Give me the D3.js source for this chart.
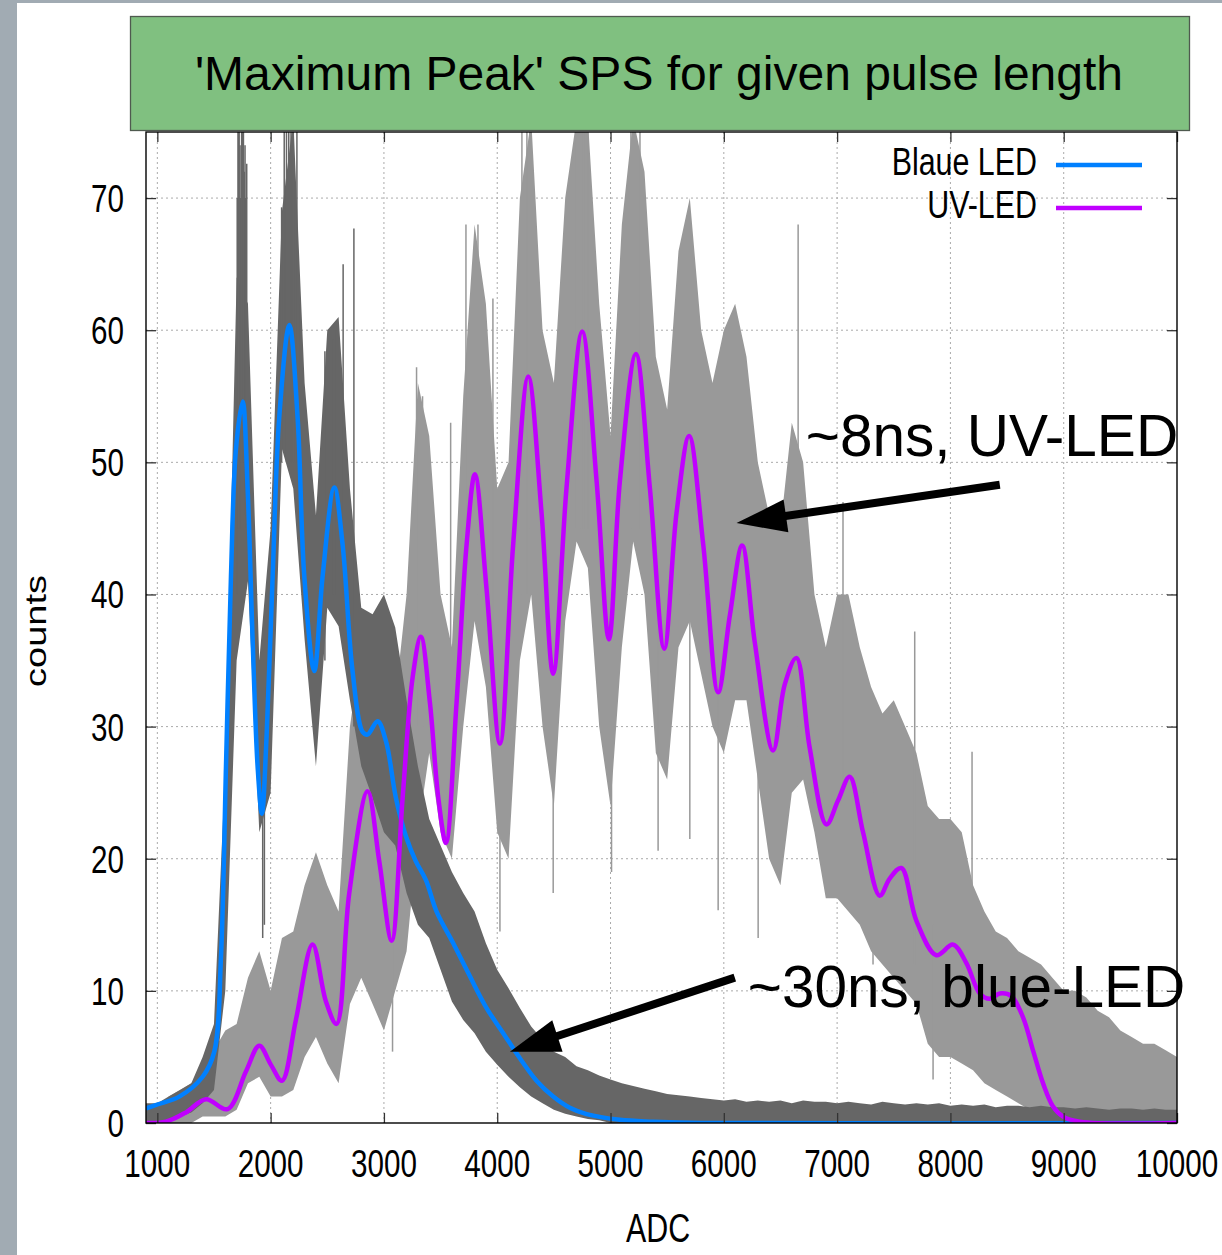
<!DOCTYPE html>
<html lang="en">
<head>
<meta charset="UTF-8">
<title>'Maximum Peak' SPS for given pulse length</title>
<script src="https://cdn.jsdelivr.net/npm/d3@7"></script>
<style>
  body { margin: 0; background: #fff; }
  text { font-family: "Liberation Sans", Arial, sans-serif; }
</style>
</head>
<body>
<script>
// histogram bins (ADC), one every 100
const adcBins = [
  900, 1000, 1100, 1200, 1300, 1400, 1500, 1600, 1700, 1800,
  1900, 2000, 2100, 2200, 2300, 2400, 2500, 2600, 2700, 2800,
  2900, 3000, 3100, 3200, 3300, 3400, 3500, 3600, 3700, 3800,
  3900, 4000, 4100, 4200, 4300, 4400, 4500, 4600, 4700, 4800,
  4900, 5000, 5100, 5200, 5300, 5400, 5500, 5600, 5700, 5800,
  5900, 6000, 6100, 6200, 6300, 6400, 6500, 6600, 6700, 6800,
  6900, 7000, 7100, 7200, 7300, 7400, 7500, 7600, 7700, 7800,
  7900, 8000, 8100, 8200, 8300, 8400, 8500, 8600, 8700, 8800,
  8900, 9000, 9100, 9200, 9300, 9400, 9500, 9600, 9700, 9800,
  9900, 10000
];

// blue LED raw histogram: upper / lower edge of the noise band
const blueHistHi = [
  1.5, 1.5, 2, 2.5, 3, 5, 7.5, 27, 64, 62,
  35, 45, 69, 76, 56, 46, 60, 61, 48, 39,
  38.5, 40, 37.5, 32, 27, 23, 21, 19, 17.4, 16,
  13.6, 11.6, 10.2, 8.7, 7.3, 6.3, 5.4, 5, 4.3, 4,
  3.6, 3.3, 3, 2.8, 2.6, 2.4, 2.2, 2.1, 2, 1.9,
  1.8, 1.7, 1.8, 1.6, 1.7, 1.6, 1.7, 1.5, 1.7, 1.6,
  1.6, 1.5, 1.6, 1.5, 1.4, 1.6, 1.5, 1.4, 1.5, 1.4,
  1.5, 1.3, 1.4, 1.3, 1.4, 1.2, 1.3, 1.3, 1.2, 1.3,
  1.2, 1.2, 1.1, 1.2, 1.1, 1.0, 1.1, 1.1, 1.0, 1.1,
  1.0, 1.0
];
const blueHistLo = [
  0, 0, 0.3, 0.5, 0.8, 1.5, 2.5, 10, 35, 41,
  22, 25, 51, 48, 36.6, 27, 39, 37.6, 32, 27,
  24.6, 22, 21, 17.4, 15, 14, 11.6, 9.2, 7.8, 6.8,
  5.4, 4.4, 3.5, 2.7, 2, 1.5, 1, 0.7, 0.5, 0.3,
  0.2, 0, 0, 0, 0, 0, 0, 0, 0, 0,
  0, 0, 0, 0, 0, 0, 0, 0, 0, 0,
  0, 0, 0, 0, 0, 0, 0, 0, 0, 0,
  0, 0, 0, 0, 0, 0, 0, 0, 0, 0,
  0, 0, 0, 0, 0, 0, 0, 0, 0, 0,
  0, 0
];

// UV LED raw histogram
const uvHistHi = [
  0.8, 1, 2, 2.5, 3, 4, 5.5, 7, 7.5, 11,
  13, 10, 14, 14.5, 18, 20.5, 18, 16, 30, 36,
  33, 26, 32, 40, 56, 52, 40, 36, 55, 68,
  62, 48, 50, 70, 76, 60, 56, 70, 76, 76,
  62, 52, 68, 76, 72, 58, 54, 66, 70, 60,
  56, 60, 62, 58, 50, 46, 45, 53, 50, 40,
  36, 40, 40, 36, 33, 31, 32, 30, 28, 24,
  23, 23, 22, 18, 16, 14.5, 14, 13, 12.5, 12,
  11, 10, 10, 9.5, 8.5, 8, 7, 6.5, 6, 6,
  5.5, 5
];
const uvHistLo = [
  0, 0, 0, 0, 0, 0.5, 0.5, 0.5, 1, 3,
  3.5, 2, 2, 2.5, 5, 6.5, 4.5, 3, 9, 11,
  9, 7, 10, 13, 22, 28, 22, 20, 30, 38,
  33, 22, 20, 35, 40, 30, 24, 38, 44, 42,
  30, 24, 36, 44, 40, 28, 26, 36, 38, 34,
  30, 28, 32, 32, 26, 20, 18, 25, 26, 22,
  17, 17, 16, 15, 13, 12, 11, 10, 9, 6,
  5, 5, 4.5, 4, 3, 2.5, 2, 1.5, 1, 0.8,
  0.6, 0.5, 0.5, 0.5, 0.5, 0.5, 0.5, 0.5, 0.5, 0.5,
  0.5, 0.5
];

// single tall / deep bins sticking out of the bands: [adc, from, to]
const blueSpikes = [
  [1705, 40, 70], [1712, 40, 76], [1718, 45, 76], [1722, 45, 76], [1730, 48, 74],
  [1736, 50, 70], [1744, 45, 76], [1752, 50, 76], [1760, 50, 76], [1768, 50, 72],
  [1774, 48, 74], [1780, 46, 70], [1789, 45, 72.6], [1930, 14, 30], [1945, 15, 33],
  [2097, 50, 69.3], [2120, 55, 76], [2140, 50, 76], [2160, 55, 76], [2180, 50, 76],
  [2200, 50, 76], [2232, 50, 76], [2259, 45, 62], [2479, 35, 58.4], [2550, 40, 59.3],
  [2582, 40, 60], [2640, 40, 65], [2735, 30, 67.7]
];
const uvSpikes = [
  [3076, 5.4, 15], [3288, 30, 57.2], [3341, 30, 55], [3589, 25, 53], [3724, 35, 68],
  [3830, 40, 68], [3962, 30, 62.4], [4024, 14.5, 30], [4218, 40, 76], [4262, 40, 76],
  [4290, 45, 76], [4494, 17.4, 40], [4700, 45, 76], [4730, 45, 76], [4760, 45, 76],
  [4800, 45, 76], [5009, 19, 40], [5180, 45, 76], [5210, 45, 76], [5260, 45, 76],
  [5420, 20.6, 40], [5700, 21.5, 40], [5950, 16.1, 35], [6303, 14, 35], [6656, 30, 68],
  [7052, 25, 47], [7317, 12, 25], [7685, 12, 37.2], [7847, 3.3, 15], [8191, 6, 28.1]
];

// fitted curves
const blueFitAdc = [
  900, 1000, 1194, 1400, 1503, 1562, 1606, 1650, 1694, 1753,
  1797, 1841, 1885, 1923, 1965, 2018, 2076, 2165, 2238, 2297,
  2385, 2459, 2562, 2635, 2723, 2812, 2856, 2944, 3018, 3106,
  3194, 3282, 3370, 3465, 3612, 3759, 3906, 4053, 4200, 4347,
  4494, 4641, 4789, 5083, 5377, 5800, 10000
];
const blueFitCounts = [
  1.1, 1.4, 2.0, 3.5, 5.4, 12.6, 27, 41.4, 51, 54.6,
  48, 36.6, 27, 23.4, 29.4, 41.4, 53.4, 60.4, 53.4, 41.4,
  34.2, 41.4, 48.1, 43.8, 34.2, 29.6, 29.4, 30.4, 28.9, 24.6,
  21.7, 19.8, 18.4, 16, 13.6, 11.1, 8.7, 6.8, 4.9, 3.2,
  2.0, 1.15, 0.67, 0.24, 0.1, 0, 0
];
const uvFitAdc = [
  900, 1076, 1253, 1429, 1620, 1782, 1900, 2003, 2100, 2223,
  2370, 2488, 2582, 2694, 2856, 2959, 3068, 3165, 3253, 3326,
  3406, 3480, 3547, 3641, 3730, 3803, 3906, 4024, 4141, 4274,
  4391, 4494, 4612, 4750, 4877, 4986, 5083, 5224, 5347, 5474,
  5583, 5694, 5818, 5950, 6053, 6162, 6273, 6435, 6538, 6641,
  6758, 6906, 7008, 7111, 7229, 7376, 7464, 7567, 7700, 7876,
  8023, 8141, 8259, 8347, 8435, 8538, 8641, 8729, 8818, 8906,
  8994, 9141, 10000
];
const uvFitCounts = [
  0, 0.1, 0.8, 1.8, 1.05, 3.9, 5.85, 4.4, 3.2, 7.8,
  13.5, 9.2, 7.5, 17.4, 25.1, 19.8, 13.8, 24.6, 33.7, 36.8,
  31.8, 24.6, 21.2, 31.8, 43.8, 49.1, 40.4, 28.7, 43.8, 56.5,
  46.2, 34, 48.1, 59.9, 48.6, 36.6, 48.6, 58.2, 48.1, 35.9,
  46.2, 52, 43.8, 32.6, 38.4, 43.7, 36.4, 28.2, 33.2, 35.2,
  28.4, 22.6, 24.4, 26.2, 22.0, 17.2, 18.5, 19.3, 15.3, 12.7,
  13.5, 12.1, 9.8, 9.4, 9.8, 9.6, 8.0, 5.5, 3.0, 1.24,
  0.48, 0.1, 0
];

const xTicks = [1000, 2000, 3000, 4000, 5000, 6000, 7000, 8000, 9000, 10000];
const yTicks = [0, 10, 20, 30, 40, 50, 60, 70];
const legendNames = ['Blaue LED', 'UV-LED'];

const W = 1222, H = 1255;
const pL = 146, pR = 1177, pT = 132, pB = 1123;
const squeeze = 0.76;   // gnuplot export is squashed horizontally

const x = d3.scaleLinear().domain([900, 10000]).range([pL, pR]);
const y = d3.scaleLinear().domain([0, 75]).range([pB, pT]);

const svg = d3.select('body').append('svg')
    .attr('width', W)
    .attr('height', H);

// slide background
svg.append('rect').attr('width', W).attr('height', H).attr('fill', '#fff');
svg.append('rect').attr('width', 17).attr('height', H).attr('fill', '#a1abb3');
svg.append('rect').attr('width', W).attr('height', 3).attr('fill', '#a1abb3');

svg.append('clipPath').attr('id', 'plotClip')
    .append('rect')
    .attr('x', pL).attr('y', pT)
    .attr('width', pR - pL).attr('height', pB - pT);

// dotted grid
const grid = svg.append('g')
    .attr('stroke', '#aaa')
    .attr('stroke-width', 1)
    .attr('stroke-dasharray', '2,3');
grid.selectAll('.gx')
    .data(xTicks.filter(t => t < 10000))
    .enter().append('line')
    .attr('x1', d => x(d)).attr('x2', d => x(d))
    .attr('y1', pT).attr('y2', pB);
grid.selectAll('.gy')
    .data(yTicks.filter(t => t > 0))
    .enter().append('line')
    .attr('x1', pL).attr('x2', pR)
    .attr('y1', d => y(d)).attr('y2', d => y(d));

const plot = svg.append('g').attr('clip-path', 'url(#plotClip)');

function band(hi, lo, spikes, color) {
    const rows = adcBins.map((a, i) => ({adc: a, hi: hi[i], lo: lo[i]}));
    const area = d3.area()
        .x(d => x(d.adc))
        .y0(d => y(d.lo))
        .y1(d => y(d.hi));
    plot.append('path')
        .datum(rows)
        .attr('d', area)
        .attr('fill', color);
    plot.append('g').selectAll('line')
        .data(spikes)
        .enter().append('line')
        .attr('x1', d => x(d[0])).attr('x2', d => x(d[0]))
        .attr('y1', d => y(d[1])).attr('y2', d => y(d[2]))
        .attr('stroke', color)
        .attr('stroke-width', 1.5);
}
band(uvHistHi, uvHistLo, uvSpikes, '#999999');
band(blueHistHi, blueHistLo, blueSpikes, '#666666');

const fitLine = d3.line()
    .x(d => x(d[0]))
    .y(d => y(d[1]))
    .curve(d3.curveCatmullRom.alpha(0.5));

plot.append('path')
    .datum(blueFitAdc.map((a, i) => [a, blueFitCounts[i]]))
    .attr('d', fitLine)
    .attr('fill', 'none')
    .attr('stroke', '#0080ff')
    .attr('stroke-width', 4.5);
plot.append('path')
    .datum(uvFitAdc.map((a, i) => [a, uvFitCounts[i]]))
    .attr('d', fitLine)
    .attr('fill', 'none')
    .attr('stroke', '#c000ff')
    .attr('stroke-width', 4.5);

// ticks on all four sides, pointing inwards
const tickCol = '#333';
function ticks(axis, tx, ty) {
    const g = svg.append('g')
        .attr('transform', `translate(${tx},${ty})`)
        .call(axis);
    g.select('.domain').remove();
    g.selectAll('line').attr('stroke', tickCol).attr('stroke-width', 1.3);
}
ticks(d3.axisBottom(x).tickValues(xTicks).tickSize(-10).tickFormat(''), 0, pB);
ticks(d3.axisTop(x).tickValues(xTicks).tickSize(-10).tickFormat(''), 0, pT);
ticks(d3.axisLeft(y).tickValues(yTicks).tickSize(-10).tickFormat(''), pL, 0);
ticks(d3.axisRight(y).tickValues(yTicks).tickSize(-10).tickFormat(''), pR, 0);

svg.append('rect')
    .attr('x', pL).attr('y', pT)
    .attr('width', pR - pL).attr('height', pB - pT)
    .attr('fill', 'none')
    .attr('stroke', '#000')
    .attr('stroke-width', 1.4);

// tick labels
svg.append('g').selectAll('text')
    .data(yTicks)
    .enter().append('text')
    .attr('transform', d => `translate(124,${y(d) + 14}) scale(${squeeze},1)`)
    .attr('text-anchor', 'end')
    .attr('font-size', 39)
    .text(d => d);
svg.append('g').selectAll('text')
    .data(xTicks)
    .enter().append('text')
    .attr('transform', d => `translate(${x(d)},1177) scale(${squeeze},1)`)
    .attr('text-anchor', 'middle')
    .attr('font-size', 39)
    .text(d => d);

svg.append('text')
    .attr('transform', `translate(658,1242) scale(${squeeze},1)`)
    .attr('text-anchor', 'middle')
    .attr('font-size', 40)
    .text('ADC');
svg.append('text')
    .attr('transform', `translate(46,631) rotate(-90) scale(1,${squeeze})`)
    .attr('text-anchor', 'middle')
    .attr('font-size', 38)
    .text('counts');

// legend
const legendColors = ['#0080ff', '#c000ff'];
const lg = svg.append('g');
legendNames.forEach((name, i) => {
    const by = 175 + i * 43;
    lg.append('text')
        .attr('transform', `translate(1037,${by}) scale(0.8,1)`)
        .attr('text-anchor', 'end')
        .attr('font-size', 38)
        .text(name);
    lg.append('line')
        .attr('x1', 1056).attr('x2', 1142)
        .attr('y1', by - 10).attr('y2', by - 10)
        .attr('stroke', legendColors[i])
        .attr('stroke-width', 4.5);
});

// title box
svg.append('rect')
    .attr('x', 130.5).attr('y', 16.5)
    .attr('width', 1059).attr('height', 114)
    .attr('fill', '#80c080')
    .attr('stroke', '#4f5a4f')
    .attr('stroke-width', 1.3);
svg.append('text')
    .attr('x', 659).attr('y', 90)
    .attr('text-anchor', 'middle')
    .attr('font-size', 48)
    .text("'Maximum Peak' SPS for given pulse length");

// annotations, placed in data units
function arrow(a0, c0, a1, c1) {
    const x1 = x(a0), y1 = y(c0), x2 = x(a1), y2 = y(c1);
    const ang = Math.atan2(y2 - y1, x2 - x1);
    const len = 50, half = 16.5;
    const bx = x2 - len * Math.cos(ang), by = y2 - len * Math.sin(ang);
    svg.append('line')
        .attr('x1', x1).attr('y1', y1)
        .attr('x2', bx + 4 * Math.cos(ang)).attr('y2', by + 4 * Math.sin(ang))
        .attr('stroke', '#000')
        .attr('stroke-width', 8);
    svg.append('polygon')
        .attr('points', [
            [x2, y2],
            [bx + half * Math.sin(ang), by - half * Math.cos(ang)],
            [bx - half * Math.sin(ang), by + half * Math.cos(ang)]
        ].map(p => p.join(',')).join(' '))
        .attr('fill', '#000');
}
arrow(8436, 48.3, 6112, 45.4);
arrow(6097, 11.0, 4112, 5.4);

svg.append('text')
    .attr('x', x(6724)).attr('y', y(50.45))
    .attr('font-size', 58.5)
    .text('~8ns, UV-LED');
svg.append('text')
    .attr('x', x(6212)).attr('y', y(8.77))
    .attr('font-size', 58.5)
    .text('~30ns, blue-LED');
</script>
</body>
</html>
